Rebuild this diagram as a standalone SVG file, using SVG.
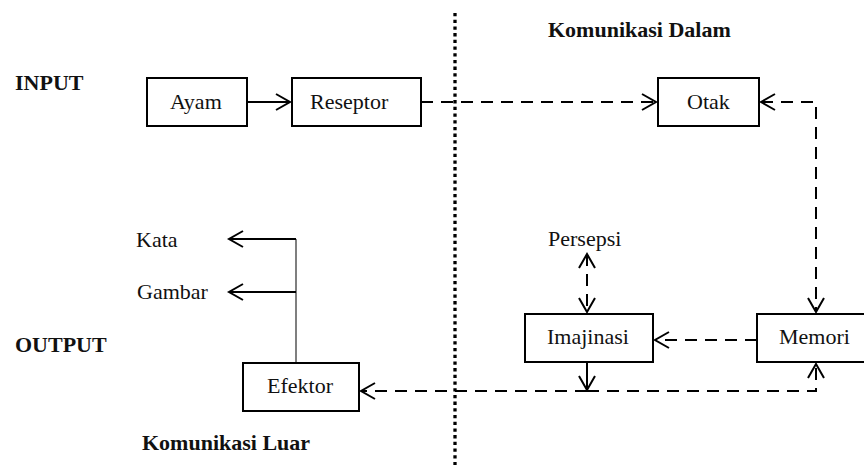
<svg xmlns="http://www.w3.org/2000/svg" width="864" height="465" viewBox="0 0 864 465">
<style>
  .box { fill: #fff; stroke: #000; stroke-width: 2; }
  .solid { fill: none; stroke: #000; stroke-width: 2; }
  .dash { fill: none; stroke: #000; stroke-width: 2; stroke-dasharray: 12 8; }
  .thin { fill: none; stroke: #555; stroke-width: 1.5; }
  .dots { fill: none; stroke: #000; stroke-width: 3.3; stroke-dasharray: 3.3 3.4; }
</style>
<defs>
  <marker id="arr" markerUnits="userSpaceOnUse" markerWidth="20" markerHeight="20" viewBox="-16 -10 20 20" refX="0" refY="0" orient="auto-start-reverse">
    <path d="M -14 -8 L 0 0 L -14 8" fill="none" stroke="#000" stroke-width="2"/>
  </marker>
</defs>
<rect width="864" height="465" fill="#fff"/>

<g id="labels" font-family="Liberation Serif" font-size="22" font-weight="bold" fill="#111">
  <text x="15" y="90">INPUT</text>
  <text x="15" y="352">OUTPUT</text>
  <text x="548" y="37">Komunikasi Dalam</text>
  <text x="142" y="450">Komunikasi Luar</text>
</g>

<g id="divider">
  <line class="dots" x1="455" y1="13" x2="455" y2="465"/>
</g>

<g id="connectors">
  <line class="solid" x1="247" y1="102" x2="290" y2="102" marker-end="url(#arr)"/>
  <line class="dash" x1="421" y1="102" x2="656" y2="102" marker-end="url(#arr)"/>
  <path class="dash" d="M 761 102 H 816 V 312" marker-start="url(#arr)" marker-end="url(#arr)"/>
  <line class="dash" x1="757" y1="340" x2="655" y2="340" marker-end="url(#arr)"/>
  <line class="dash" x1="587" y1="254" x2="587" y2="312" marker-start="url(#arr)" marker-end="url(#arr)"/>
  <line class="solid" x1="587" y1="363" x2="587" y2="390" marker-end="url(#arr)"/>
  <path class="dash" d="M 587 391 H 816 V 364" marker-end="url(#arr)"/>
  <line class="dash" x1="587" y1="391" x2="361" y2="391" marker-end="url(#arr)"/>
  <polyline class="thin" points="296,363 296,239"/>
  <line class="solid" x1="296" y1="239" x2="229" y2="239" marker-end="url(#arr)"/>
  <line class="solid" x1="296" y1="292" x2="229" y2="292" marker-end="url(#arr)"/>
</g>

<g font-family="Liberation Serif" font-size="22" fill="#111">
<g id="ayam">
  <rect class="box" x="147" y="78" width="100" height="48"/>
  <text x="170" y="109">Ayam</text>
</g>
<g id="reseptor">
  <rect class="box" x="292" y="78" width="129" height="48"/>
  <text x="310" y="109">Reseptor</text>
</g>
<g id="otak">
  <rect class="box" x="658" y="78" width="101" height="48"/>
  <text x="687" y="109">Otak</text>
</g>
<g id="efektor">
  <rect class="box" x="243" y="363" width="116" height="48"/>
  <text x="267" y="393">Efektor</text>
</g>
<g id="imajinasi">
  <rect class="box" x="525" y="314" width="128" height="48"/>
  <text x="547" y="344">Imajinasi</text>
</g>
<g id="memori">
  <rect class="box" x="757" y="314" width="120" height="48"/>
  <text x="779" y="344">Memori</text>
</g>
<g id="kata"><text x="136" y="247">Kata</text></g>
<g id="gambar"><text x="137" y="299">Gambar</text></g>
<g id="persepsi"><text x="548" y="246">Persepsi</text></g>
</g>
</svg>
